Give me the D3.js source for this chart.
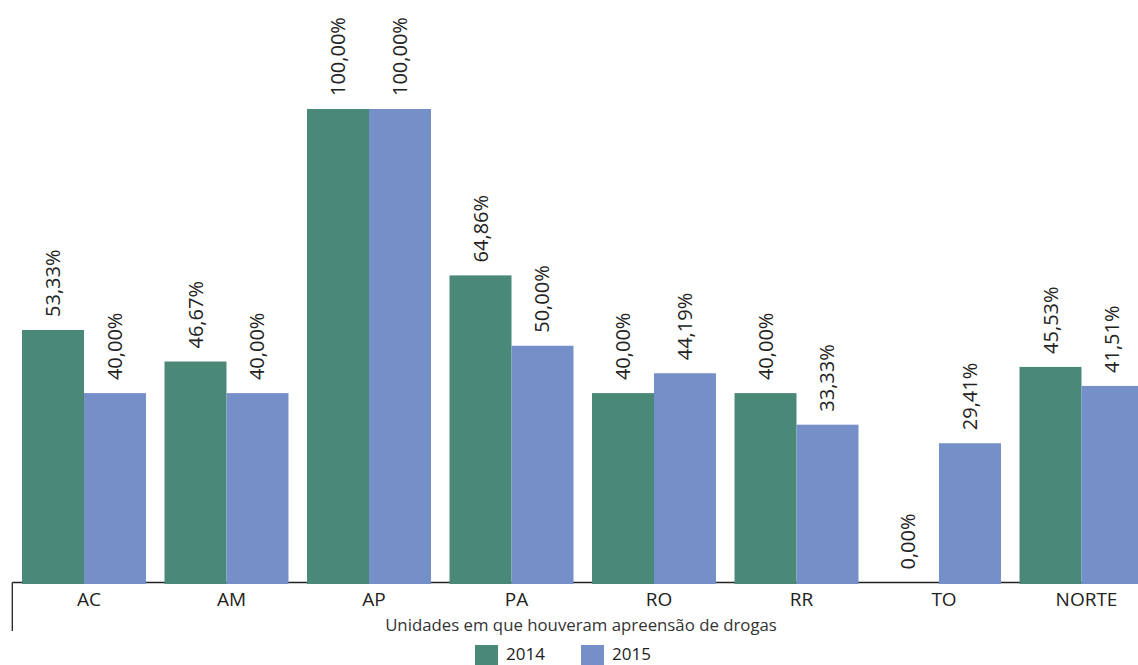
<!DOCTYPE html>
<html>
<head>
<meta charset="utf-8">
<script src="https://cdn.jsdelivr.net/npm/d3@7"></script>
<style>
  html, body { margin: 0; padding: 0; background: #fff; }
  svg { display: block; font-family: "Open Sans", sans-serif; }
</style>
</head>
<body>
<svg id="chart" width="1138" height="665"></svg>
<script>
const categories = ["AC", "AM", "AP", "PA", "RO", "RR", "TO", "NORTE"];
const seriesNames = ["2014", "2015"];
const values2014 = [53.33, 46.67, 100.00, 64.86, 40.00, 40.00, 0.00, 45.53];
const values2015 = [40.00, 40.00, 100.00, 50.00, 44.19, 33.33, 29.41, 41.51];
const colors = ["#4a8878", "#7590c9"];
const axisTitle = "Unidades em que houveram apreensão de drogas";

const svg = d3.select("#chart");
const baseY = 582.5, topY = 109;

const x0 = d3.scaleBand().domain(categories)
  .range([12.75, 1152.75]).paddingInner(0.13).paddingOuter(0.065);
const x1 = d3.scaleBand().domain(seriesNames).range([0, x0.bandwidth()]);
const y = d3.scaleLinear().domain([0, 100]).range([baseY, topY]);

const data = categories.map((c, i) => ({
  cat: c,
  vals: [{s: "2014", v: values2014[i]}, {s: "2015", v: values2015[i]}]
}));

// axis lines
svg.append("line").attr("x1", 12.3).attr("x2", 1138).attr("y1", baseY).attr("y2", baseY)
  .attr("stroke", "#222").attr("stroke-width", 1.3);
svg.append("line").attr("x1", 12.3).attr("x2", 12.3).attr("y1", baseY).attr("y2", 631)
  .attr("stroke", "#222").attr("stroke-width", 1.3);

const fmt = v => v.toFixed(2).replace(".", ",") + "%";

const g = svg.selectAll("g.grp").data(data).enter().append("g")
  .attr("transform", d => `translate(${x0(d.cat)},0)`);

g.selectAll("rect").data(d => d.vals.filter(e => e.v > 0)).enter().append("rect")
  .attr("x", d => x1(d.s))
  .attr("width", x1.bandwidth())
  .attr("y", d => y(d.v))
  .attr("height", d => baseY + 1.5 - y(d.v))
  .attr("fill", d => colors[seriesNames.indexOf(d.s)]);

g.selectAll("text.val").data(d => d.vals).enter().append("text")
  .attr("class", "val")
  .attr("transform", d => `translate(${x1(d.s) + x1.bandwidth() / 2},${y(d.v) - 13}) rotate(-90)`)
  .attr("dy", "0.35em")
  .attr("text-anchor", "start")
  .attr("font-size", 20)
  .attr("fill", "#222")
  .text(d => fmt(d.v));

// category labels
svg.selectAll("text.cat").data(categories).enter().append("text")
  .attr("class", "cat")
  .attr("x", d => x0(d) + x0.bandwidth() / 2 + 5)
  .attr("y", 606)
  .attr("text-anchor", "middle")
  .attr("font-size", 19)
  .attr("fill", "#222")
  .text(d => d);

svg.append("text").attr("x", 581).attr("y", 631).attr("text-anchor", "middle")
  .attr("font-size", 16.8).attr("fill", "#333").text(axisTitle);

// legend
const leg = svg.append("g");
const legX = [475, 581];
seriesNames.forEach((s, i) => {
  leg.append("rect").attr("x", legX[i]).attr("y", 645).attr("width", 23).attr("height", 22)
    .attr("fill", colors[i]);
  leg.append("text").attr("x", legX[i] + 31).attr("y", 660).attr("font-size", 17)
    .attr("fill", "#222").text(s);
});
</script>
</body>
</html>
